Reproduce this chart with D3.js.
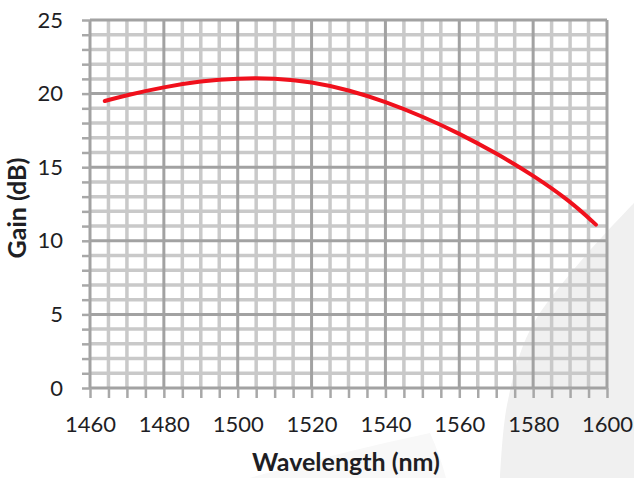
<!DOCTYPE html>
<html><head><meta charset="utf-8">
<script src="https://cdn.jsdelivr.net/npm/d3@7"></script>
<style>
html,body{margin:0;padding:0;background:#fff;}
svg{display:block;}
text{font-family:Lato,"Open Sans",sans-serif;fill:#1e1e24;}
</style></head>
<body>
<svg id="chart" width="634" height="478"></svg>
<script>
// Data
const wavelength = [1464, 1470, 1480, 1490, 1500, 1510, 1520, 1530, 1540, 1550, 1560, 1570, 1580, 1590, 1597];
const gain       = [19.5, 19.9, 20.45, 20.85, 21.05, 21.05, 20.8, 20.25, 19.45, 18.45, 17.3, 15.95, 14.45, 12.7, 11.1];
const xTicks = [1460, 1480, 1500, 1520, 1540, 1560, 1580, 1600];
const yTicks = [0, 5, 10, 15, 20, 25];
const xMinor = d3.range(1460, 1601, 5);
const yMinor = d3.range(0, 26, 1);

const svg = d3.select("#chart");
const W = 634, H = 478;
const m = {l: 90, r: 27, t: 20, b: 90};
const x = d3.scaleLinear().domain([1460, 1600]).range([m.l, W - m.r]);
const y = d3.scaleLinear().domain([0, 25]).range([H - m.b, m.t]);

// background decoration (slide shape)
svg.append("path")
  .attr("d", d3.line().curve(d3.curveCatmullRom)([[634,203],[580,262],[530,330],[507,405],[500,478]]) + "L634,478Z")
  .attr("fill", "#f0f0f0");
svg.append("path")
  .attr("d", "M250,478 Q340,452 430,433 Q440,455 446,478 Z")
  .attr("fill", "#f8f8f8");

// minor grid
const grid = svg.append("g");
grid.selectAll(".vx").data(xMinor.filter(v => v % 20 !== 0)).join("line")
  .attr("x1", d => x(d)).attr("x2", d => x(d)).attr("y1", y(25)).attr("y2", y(0))
  .attr("stroke", "#c9c9c9").attr("stroke-width", 3.5);
grid.selectAll(".hy").data(yMinor.filter(v => v % 5 !== 0)).join("line")
  .attr("y1", d => y(d)).attr("y2", d => y(d)).attr("x1", x(1460)).attr("x2", x(1600))
  .attr("stroke", "#c9c9c9").attr("stroke-width", 3.5);
// major grid
grid.selectAll(".vX").data(xTicks).join("line")
  .attr("x1", d => x(d)).attr("x2", d => x(d)).attr("y1", y(25)).attr("y2", y(0))
  .attr("stroke", "#a2a2a2").attr("stroke-width", 3);
grid.selectAll(".hY").data(yTicks).join("line")
  .attr("y1", d => y(d)).attr("y2", d => y(d)).attr("x1", x(1460)).attr("x2", x(1600))
  .attr("stroke", "#a2a2a2").attr("stroke-width", 3);

// minor tick marks via axes
const xAxisMinor = d3.axisBottom(x).tickValues(xMinor).tickSize(10).tickFormat("");
svg.append("g").attr("transform", `translate(0,${y(0)})`).call(xAxisMinor)
  .call(g => { g.select(".domain").remove(); g.selectAll("line").attr("stroke", "#a8a8a8").attr("stroke-width", 2.5); });
const yAxisMinor = d3.axisLeft(y).tickValues(yMinor).tickSize(8).tickFormat("");
svg.append("g").attr("transform", `translate(${x(1460)},0)`).call(yAxisMinor)
  .call(g => { g.select(".domain").remove(); g.selectAll("line").attr("stroke", "#a8a8a8").attr("stroke-width", 2.5); });

// labels
const xAxis = d3.axisBottom(x).tickValues(xTicks).tickSize(0).tickPadding(28).tickFormat(d3.format("d"));
svg.append("g").attr("transform", `translate(0,${y(0)})`).call(xAxis)
  .call(g => { g.select(".domain").remove(); g.selectAll("text").style("font-size", "22px").attr("fill", "#1e1e24"); });
const yAxis = d3.axisLeft(y).tickValues(yTicks).tickSize(0).tickPadding(27).tickFormat(d3.format("d"));
svg.append("g").attr("transform", `translate(${x(1460)},0)`).call(yAxis)
  .call(g => { g.select(".domain").remove(); g.selectAll("text").style("font-size", "22px").attr("fill", "#1e1e24"); });

// curve
svg.append("path")
  .datum(wavelength.map((w, i) => [w, gain[i]]))
  .attr("d", d3.line().x(d => x(d[0])).y(d => y(d[1])).curve(d3.curveBasis))
  .attr("fill", "none").attr("stroke", "#f0101c").attr("stroke-width", 4).attr("stroke-linecap", "round");

// titles
svg.append("text").attr("x", 346).attr("y", 471).attr("text-anchor", "middle")
  .style("font-size", "25px").style("font-weight", "bold").text("Wavelength (nm)");
svg.append("text").attr("transform", "translate(26,208) rotate(-90)").attr("text-anchor", "middle")
  .style("font-size", "25px").style("font-weight", "bold").text("Gain (dB)");
</script>
</body></html>
